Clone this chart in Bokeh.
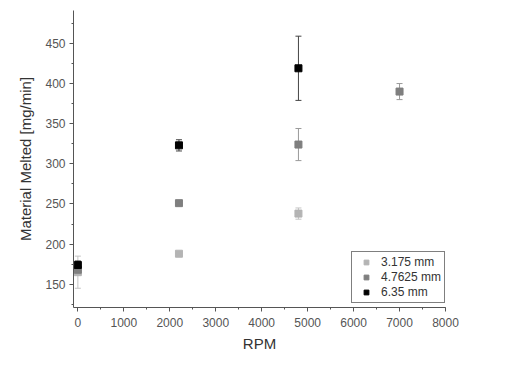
from bokeh.plotting import figure
from bokeh.models import (ColumnDataSource, Whisker, TeeHead, SingleIntervalTicker,
                          Range1d, Legend, LegendItem)
from bokeh.embed import file_html
from bokeh.resources import INLINE

# Data
labels = ["3.175 mm", "4.7625 mm", "6.35 mm"]
colors = ["#b4b4b4", "#7f7f7f", "#000000"]
bar_colors = ["#c4c4c4", "#9a9a9a", "#444444"]
rpm_small = [0, 2200, 4800]
val_small = [165, 188, 238]
err_small = [20, 0, 7]
rpm_mid = [0, 2200, 4800, 7000]
val_mid = [168, 251, 324, 390]
err_mid = [0, 3, 20, 10]
rpm_large = [0, 2200, 4800]
val_large = [174, 323, 419]
err_large = [5, 7, 40]

series = [(rpm_small, val_small, err_small),
          (rpm_mid, val_mid, err_mid),
          (rpm_large, val_large, err_large)]

FONT = "Liberation Sans"

p = figure(width=512, height=383, output_backend="svg", toolbar_location=None,
           x_range=Range1d(-95, 8000), y_range=Range1d(121, 491),
           min_border_left=73, min_border_right=67, min_border_top=10,
           min_border_bottom=76)
p.outline_line_color = None
p.xgrid.visible = False
p.ygrid.visible = False
p.background_fill_color = "white"
p.border_fill_color = "white"

p.xaxis.ticker = SingleIntervalTicker(interval=1000, num_minor_ticks=2)
p.yaxis.ticker = SingleIntervalTicker(interval=50, num_minor_ticks=2)
for ax in (p.xaxis[0], p.yaxis[0]):
    ax.axis_line_color = "#555555"
    ax.major_tick_line_color = "#555555"
    ax.minor_tick_line_color = "#555555"
    ax.major_tick_out = 4
    ax.major_tick_in = 0
    ax.minor_tick_out = 2
    ax.minor_tick_in = 0
    ax.major_label_text_font = FONT
    ax.major_label_text_font_size = "12px"
    ax.major_label_text_color = "#555555"
    ax.axis_label_text_font = FONT
    ax.axis_label_text_font_size = "15px"
    ax.axis_label_text_font_style = "normal"
    ax.axis_label_text_color = "#333333"
p.xaxis.axis_label = "RPM"
p.yaxis.axis_label = "Material Melted [mg/min]"
p.xaxis.major_label_standoff = 6
p.xaxis.axis_label_standoff = 5
p.yaxis.major_label_standoff = 4
p.yaxis.axis_label_standoff = 8

items = []
for (xs, ys, es), col, bcol, lab in zip(series, colors, bar_colors, labels):
    src = ColumnDataSource(dict(x=xs, y=ys,
                                lo=[y - e for y, e in zip(ys, es)],
                                hi=[y + e for y, e in zip(ys, es)]))
    w = Whisker(source=src, base="x", upper="hi", lower="lo",
                line_color=bcol, line_width=1,
                upper_head=TeeHead(size=6, line_color=bcol, line_width=1),
                lower_head=TeeHead(size=6, line_color=bcol, line_width=1))
    p.add_layout(w)
    r = p.scatter("x", "y", source=src, marker="square", size=7,
                  fill_color=col, line_color=col)
    items.append(LegendItem(label=lab, renderers=[r]))

legend = Legend(items=items, location=(278, 4))
legend.label_text_font = FONT
legend.label_text_font_size = "12px"
legend.label_text_color = "#333333"
legend.border_line_color = "black"
legend.border_line_width = 1
legend.glyph_width = 22
legend.glyph_height = 12
legend.label_height = 12
legend.spacing = 1
legend.padding = 3
legend.margin = 0
legend.label_standoff = 4
legend.background_fill_alpha = 1
p.add_layout(legend)

open("out.html", "w").write(file_html(p, INLINE))
